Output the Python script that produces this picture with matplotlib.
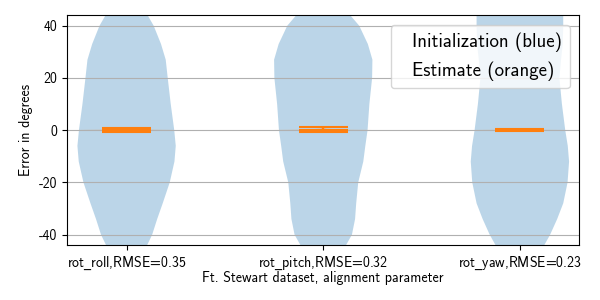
import matplotlib
matplotlib.use('Agg')
import matplotlib.pyplot as plt
from matplotlib.lines import Line2D
import numpy as np

plt.rcParams['font.family'] = ['cmss10', 'DejaVu Sans']
plt.rcParams['axes.unicode_minus'] = False
plt.rcParams['mathtext.fontset'] = 'dejavusans'

categories = [r'rot$\_$roll,RMSE=0.35', r'rot$\_$pitch,RMSE=0.32', r'rot$\_$yaw,RMSE=0.23']
legend_labels = ['Initialization (blue)', 'Estimate (orange)']

# Initialization (blue) density profiles
init_coords = [-46, -44, -40, -34, -28, -20, -12, -6, 0, 10, 20, 27, 33, 40, 44, 46]
init_roll = [18, 20.5, 25.5, 30.5, 36, 43, 47.7, 49, 47.5, 44, 41, 39, 34.3, 27, 21, 18]
init_pitch = [20, 22.5, 28.3, 31.4, 32.5, 34.5, 39.5, 41.5, 43.7, 45.5, 48.2, 48.5, 44, 35.5, 26.7, 23]
init_yaw = [21, 24.2, 30, 37, 43, 47.3, 48.8, 47.5, 45, 41.7, 39.2, 40.8, 42.5, 43, 43, 43]
init_min = [-60, -60, -60]
init_max = [60, 60, 60]
init_median = [-5, 10, -8]

# Estimate (orange) summary values
est_min = [-0.65, -0.65, -0.15]
est_max = [0.9, 1.2, 0.4]
est_median = [0.12, 0.12, 0.1]
est_coords = [[-0.65, -0.3, 0.0, 0.1, 0.2, 0.5, 0.9],
              [-0.65, -0.3, 0.0, 0.1, 0.2, 0.6, 1.2],
              [-0.15, -0.05, 0.05, 0.1, 0.15, 0.25, 0.4]]
est_vals = [[0.02, 0.05, 0.4, 1.0, 0.4, 0.05, 0.02],
            [0.02, 0.05, 0.4, 1.0, 0.4, 0.05, 0.02],
            [0.02, 0.05, 0.4, 1.0, 0.4, 0.05, 0.02]]

positions = [1, 2, 3]

fig = plt.figure(figsize=(6, 3), dpi=100)
ax = fig.add_axes([0.112, 0.183, 0.9655 - 0.112, 0.949 - 0.183])

init_stats = []
for prof, mn, mx, md in zip([init_roll, init_pitch, init_yaw], init_min, init_max, init_median):
    init_stats.append(dict(coords=np.array(init_coords, float), vals=np.array(prof, float),
                           mean=md, median=md, min=mn, max=mx))
r1 = ax.violin(init_stats, positions=positions, widths=0.5,
               showmeans=False, showextrema=False, showmedians=False)
for b in r1['bodies']:
    b.set_facecolor('C0')
    b.set_edgecolor('none')
    b.set_alpha(0.3)

est_stats = []
for c, v, mn, mx, md in zip(est_coords, est_vals, est_min, est_max, est_median):
    est_stats.append(dict(coords=np.array(c, float), vals=np.array(v, float),
                          mean=md, median=md, min=mn, max=mx))
r2 = ax.violin(est_stats, positions=positions, widths=0.5,
               showmeans=False, showextrema=True, showmedians=True)
for b in r2['bodies']:
    b.set_facecolor('C1')
    b.set_edgecolor('none')
    b.set_alpha(0.3)
for key in ['cmaxes', 'cmins', 'cbars', 'cmedians']:
    r2[key].set_color('C1')
    r2[key].set_linewidth(1.5)

ax.set_xlim(0.698, 3.302)
ax.set_ylim(-44, 44)
ax.set_yticks([-40, -20, 0, 20, 40])
ax.set_xticks(positions)
ax.set_xticklabels(categories)
ax.yaxis.grid(True, color='#b0b0b0', linewidth=0.8)
ax.set_xlabel('Ft. Stewart dataset, alignment parameter', labelpad=-1)
ax.set_ylabel('Error in degrees')

handles = [Line2D([], [], linestyle='none') for _ in legend_labels]
ax.legend(handles, legend_labels, loc='upper right', fontsize=13.6,
          handlelength=0, handletextpad=0.75)

fig.savefig('out.png', dpi=100)
